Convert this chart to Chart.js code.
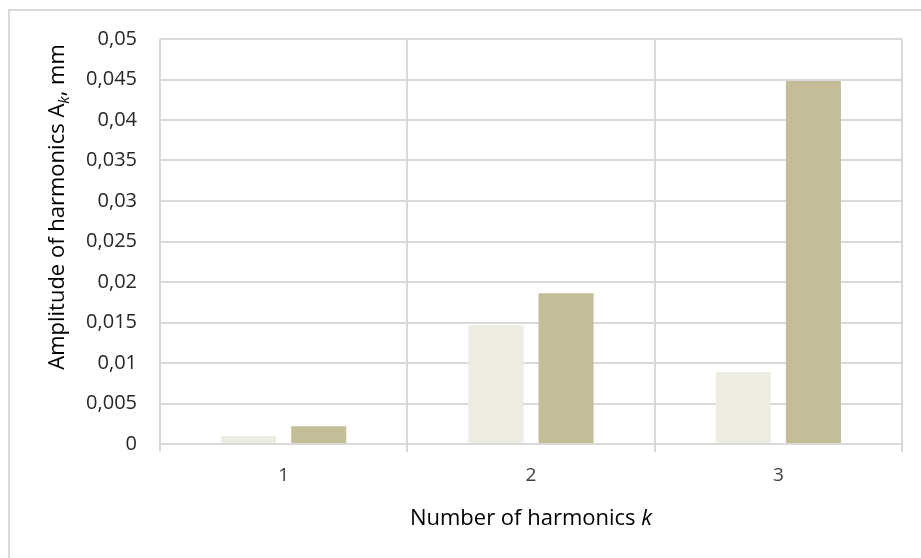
<!DOCTYPE html>
<html>
<head>
<meta charset="utf-8">
<script src="https://cdn.jsdelivr.net/npm/chart.js@4/dist/chart.umd.min.js"></script>
<style>
  html, body { margin: 0; padding: 0; background: #fff; }
  #wrap { width: 921px; height: 558px; position: relative; }
</style>
</head>
<body>
<div id="wrap"><canvas id="chart" width="921" height="558"></canvas></div>
<script>
var harmonics = ['1', '2', '3'];
var amplitude_a = [0.001, 0.0147, 0.0089];
var amplitude_b = [0.0022, 0.0186, 0.0448];
var y_ticks = [0, 0.005, 0.01, 0.015, 0.02, 0.025, 0.03, 0.035, 0.04, 0.045, 0.05];

var font_family = '"Open Sans", sans-serif';

// axis titles with subscript / italic parts, plus the outer frame
var titles_plugin = {
  id: 'titles',
  afterDraw: function(chart) {
    var ctx = chart.ctx;
    ctx.save();
    ctx.strokeStyle = '#d9d9d9';
    ctx.lineWidth = 2;
    ctx.beginPath();
    ctx.moveTo(9, 600);
    ctx.lineTo(9, 10);
    ctx.lineTo(960, 10);
    ctx.stroke();

    ctx.fillStyle = '#000';
    ctx.textBaseline = 'alphabetic';

    // x title
    var parts = [['Number of harmonics ', 'normal 22px'], ['k', 'italic 22px']];
    var widths = parts.map(function(p) {
      ctx.font = p[1] + ' ' + font_family;
      return ctx.measureText(p[0]).width;
    });
    var total = widths[0] + widths[1];
    var x = 531 - total / 2;
    parts.forEach(function(p, i) {
      ctx.font = p[1] + ' ' + font_family;
      ctx.fillText(p[0], x, 525);
      x += widths[i];
    });

    // y title, rotated
    ctx.translate(64, 207);
    ctx.rotate(-Math.PI / 2);
    var yparts = [['Amplitude of harmonics A', '22px', 0], ['k', 'italic 15px', 5], [', mm', '22px', 0]];
    var yw = yparts.map(function(p) {
      ctx.font = p[1] + ' ' + font_family;
      return ctx.measureText(p[0]).width;
    });
    var ytotal = yw.reduce(function(a, b) { return a + b; }, 0);
    var yx = -ytotal / 2;
    yparts.forEach(function(p, i) {
      ctx.font = p[1] + ' ' + font_family;
      ctx.fillText(p[0], yx, p[2]);
      yx += yw[i];
    });
    ctx.restore();
  }
};

var ctx = document.getElementById('chart').getContext('2d');
new Chart(ctx, {
  type: 'bar',
  data: {
    labels: harmonics,
    datasets: [{
      data: amplitude_a,
      backgroundColor: '#eeebe0',
      categoryPercentage: 0.567,
      barPercentage: 0.786
    }, {
      data: amplitude_b,
      backgroundColor: '#c4bd97',
      categoryPercentage: 0.567,
      barPercentage: 0.786
    }]
  },
  options: {
    responsive: false,
    animation: false,
    layout: { padding: { left: 20, top: 39, right: 19, bottom: 0 } },
    plugins: { legend: { display: false }, tooltip: { enabled: false } },
    scales: {
      x: {
        grid: { color: '#d9d9d9', lineWidth: 2, offset: true, tickLength: 8 },
        border: { color: '#d9d9d9', width: 2 },
        ticks: { color: '#404040', font: { family: font_family, size: 19 }, padding: 12 },
        afterFit: function(scale) { scale.height = 558 - 444; }
      },
      y: {
        min: 0,
        max: 0.05,
        grid: { color: '#d9d9d9', lineWidth: 2, drawTicks: false },
        border: { display: false },
        afterBuildTicks: function(scale) {
          scale.ticks = y_ticks.map(function(v) { return { value: v }; });
        },
        ticks: {
          color: '#262626',
          font: { family: font_family, size: 20 },
          padding: 23,
          callback: function(v) { return String(+v.toFixed(3)).replace('.', ','); }
        },
        afterFit: function(scale) { scale.width = 160 - 20; }
      }
    }
  },
  plugins: [titles_plugin]
});
</script>
</body>
</html>
